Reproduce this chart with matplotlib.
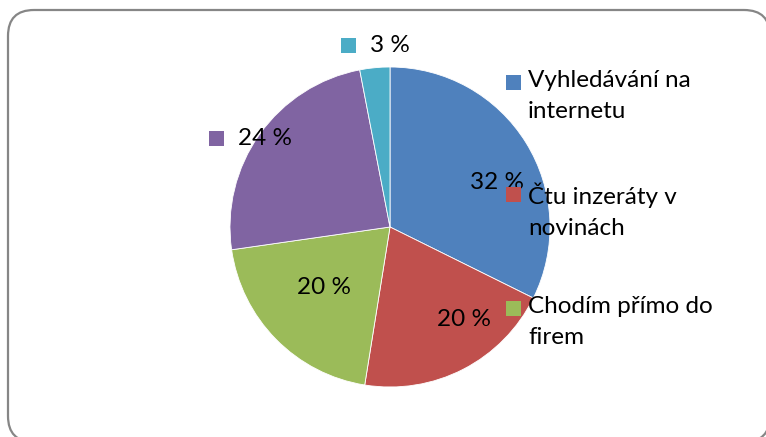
import matplotlib
matplotlib.use('Agg')
import matplotlib.pyplot as plt
from matplotlib.patches import FancyBboxPatch, Rectangle
from matplotlib.transforms import IdentityTransform

plt.rcParams['font.family'] = ['Lato', 'DejaVu Sans']

# podíly odpovědí (%)
categories = ['Vyhledávání na\ninternetu', 'Čtu inzeráty v\nnovinách', 'Chodím přímo do\nfirem', '', '']
values = [32, 20, 20, 24, 3]
colors = ['#4F81BD', '#C0504D', '#9BBB59', '#8064A2', '#4BACC6']
pct_labels = ['%d %%' % v for v in values]

# pozice popisků v souřadnicích koláče (poloměr = 1);
# popisky se čtverečkem jsou zarovnané vlevo
label_xy = [(0.67, 0.275), (0.46, -0.58), (-0.41, -0.38), (-0.95, 0.556), (-0.125, 1.1375)]
label_key = [False, False, False, True, True]

W, H = 766, 437
fig = plt.figure(figsize=(W / 100, H / 100), dpi=100)

# ramecek grafu
frame = FancyBboxPatch((8, H - 442), 762, 432, boxstyle='round,pad=0,rounding_size=26',
                       transform=IdentityTransform(), facecolor='white',
                       edgecolor='#868686', linewidth=1.6, zorder=-5)
fig.patches.append(frame)

cx, cy, r = 390, 227, 160
ax = fig.add_axes([(cx - r) / W, (H - cy - r) / H, 2 * r / W, 2 * r / H])

wedges, _ = ax.pie(values, colors=colors, startangle=90, counterclock=False, radius=1,
                   wedgeprops=dict(edgecolor='white', linewidth=0.6))
ax.set_xlim(-1, 1)
ax.set_ylim(-1, 1)
ax.set_aspect('equal')
ax.axis('off')

fs = 17.5
sq = 15 / r   # velikost ctverecku
gap = 14 / r  # mezera mezi ctverceckem a textem
for (x, y), txt, key, col in zip(label_xy, pct_labels, label_key, colors):
    if key:
        ax.text(x, y, txt, ha='left', va='center', fontsize=fs, color='black', clip_on=False)
        ax.add_patch(Rectangle((x - gap - sq, y - sq / 2), sq, sq, facecolor=col,
                               edgecolor='none', clip_on=False))
    else:
        ax.text(x, y, txt, ha='center', va='center', fontsize=fs, color='black', clip_on=False)

# legenda
leg_y = [82, 194, 308]
for name, col, y in zip(categories[:3], colors[:3], leg_y):
    fig.patches.append(Rectangle((506, H - y - 7.5), 15, 15, transform=IdentityTransform(),
                                 facecolor=col, edgecolor='none', zorder=3))
    fig.text(528 / W, 1 - (y - 12) / H, name, ha='left', va='top', fontsize=fs,
             linespacing=1.6, zorder=3)

fig.savefig('out.png', dpi=100)
